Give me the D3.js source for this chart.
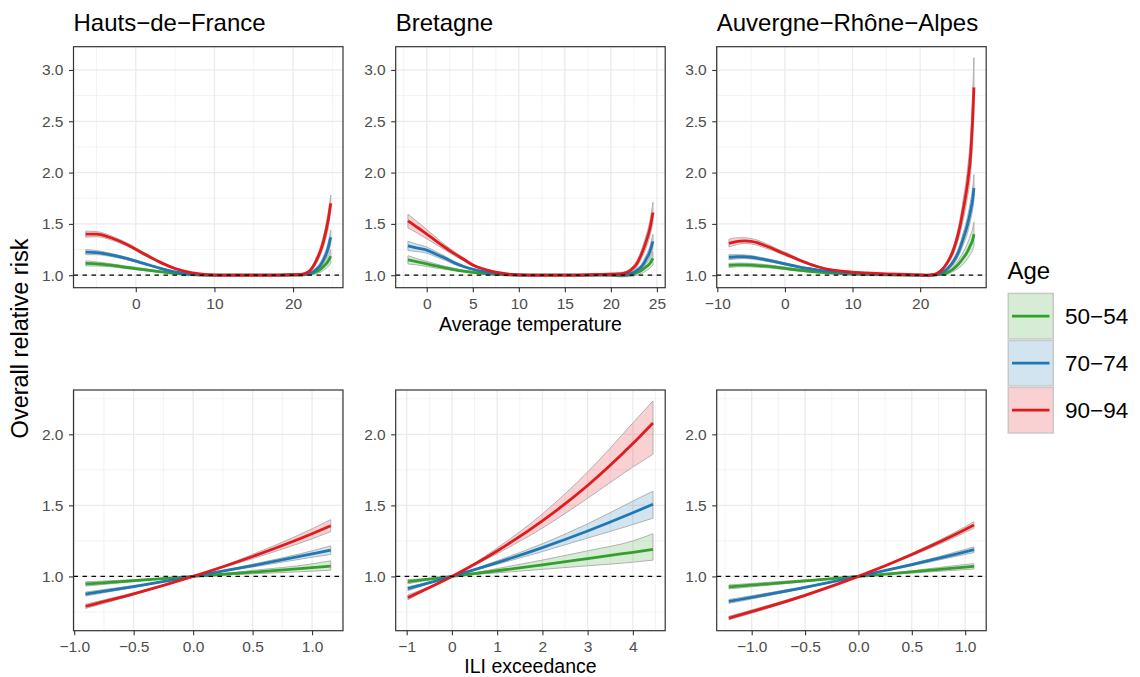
<!DOCTYPE html>
<html>
<head>
<meta charset="utf-8">
<script src="https://cdn.jsdelivr.net/npm/d3@7"></script>
<style>
  body { margin: 0; background: #fff; }
  text { font-family: "Liberation Sans", Arial, Helvetica, sans-serif; }
</style>
</head>
<body>
<svg id="chart" width="1140" height="677"></svg>
<script>
// ---- data ----
const regions = ["Hauts\u2212de\u2212France", "Bretagne", "Auvergne\u2212Rh\u00f4ne\u2212Alpes"];
const ageGroups = ["50\u221254", "70\u221274", "90\u221294"];

// Average temperature, Hauts-de-France  (rows: 50-54, 70-74, 90-94)
const hdfTempX = [-6.36, -5, -3, -1, 1, 3, 5, 7, 9, 11, 14, 17, 20, 21, 22, 22.5, 23, 23.5, 24, 24.4, 24.79];
const hdfTempFit = [
  [1.115, 1.11, 1.095, 1.075, 1.055, 1.035, 1.017, 1.005, 1.0, 1.0, 1.0, 1.0, 1.0, 1.002, 1.01, 1.02, 1.035, 1.06, 1.095, 1.13, 1.185],
  [1.225, 1.22, 1.195, 1.16, 1.115, 1.07, 1.033, 1.01, 1.002, 1.0, 1.0, 1.0, 1.003, 1.004, 1.015, 1.03, 1.06, 1.10, 1.17, 1.25, 1.37],
  [1.40, 1.40, 1.36, 1.295, 1.21, 1.13, 1.065, 1.025, 1.006, 1.0, 1.0, 1.0, 1.006, 1.008, 1.035, 1.08, 1.15, 1.24, 1.37, 1.51, 1.70]
];
const hdfTempLo = [
  [1.09, 1.09, 1.08, 1.063, 1.045, 1.028, 1.012, 1.002, 0.998, 0.998, 0.997, 0.997, 0.996, 0.996, 1.0, 1.005, 1.015, 1.03, 1.055, 1.08, 1.12],
  [1.20, 1.20, 1.18, 1.148, 1.105, 1.063, 1.028, 1.007, 1.0, 0.998, 0.997, 0.997, 0.998, 0.998, 1.005, 1.015, 1.04, 1.07, 1.13, 1.20, 1.30],
  [1.37, 1.375, 1.34, 1.28, 1.195, 1.12, 1.058, 1.02, 1.003, 0.998, 0.997, 0.997, 1.0, 1.0, 1.02, 1.06, 1.12, 1.20, 1.31, 1.44, 1.62]
];
const hdfTempHi = [
  [1.14, 1.13, 1.11, 1.087, 1.065, 1.042, 1.022, 1.008, 1.002, 1.002, 1.003, 1.003, 1.004, 1.008, 1.02, 1.035, 1.055, 1.09, 1.135, 1.18, 1.25],
  [1.25, 1.24, 1.21, 1.172, 1.125, 1.077, 1.038, 1.013, 1.004, 1.002, 1.003, 1.003, 1.008, 1.01, 1.025, 1.045, 1.08, 1.13, 1.21, 1.30, 1.44],
  [1.43, 1.425, 1.38, 1.31, 1.225, 1.14, 1.072, 1.03, 1.009, 1.002, 1.003, 1.003, 1.012, 1.016, 1.05, 1.10, 1.18, 1.28, 1.43, 1.58, 1.78]
];

// Average temperature, Bretagne
const breTempX = [-2.04, -1, 0, 1, 2, 3, 4, 5, 6, 7, 8, 10, 12, 15, 18, 20, 21, 21.7, 22.3, 22.8, 23.3, 23.8, 24.2, 24.57];
const breTempFit = [
  [1.15, 1.13, 1.11, 1.09, 1.072, 1.055, 1.04, 1.028, 1.018, 1.011, 1.006, 1.0, 1.0, 1.0, 1.0, 1.0, 0.998, 1.0, 1.01, 1.025, 1.045, 1.08, 1.11, 1.165],
  [1.285, 1.265, 1.245, 1.205, 1.165, 1.12, 1.085, 1.058, 1.038, 1.024, 1.013, 1.002, 1.0, 1.0, 1.002, 1.003, 1.0, 1.005, 1.02, 1.045, 1.08, 1.15, 1.22, 1.33],
  [1.53, 1.465, 1.40, 1.335, 1.27, 1.21, 1.155, 1.10, 1.065, 1.04, 1.022, 1.003, 1.0, 1.0, 1.005, 1.01, 1.012, 1.025, 1.06, 1.11, 1.20, 1.32, 1.44, 1.61]
];
const breTempLo = [
  [1.11, 1.10, 1.085, 1.07, 1.057, 1.043, 1.031, 1.021, 1.013, 1.007, 1.003, 0.998, 0.997, 0.997, 0.997, 0.992, 0.985, 0.985, 0.99, 1.0, 1.015, 1.04, 1.065, 1.10],
  [1.24, 1.23, 1.215, 1.18, 1.145, 1.105, 1.075, 1.05, 1.032, 1.019, 1.009, 0.999, 0.997, 0.997, 0.998, 0.993, 0.985, 0.99, 1.005, 1.025, 1.055, 1.11, 1.17, 1.26],
  [1.46, 1.41, 1.355, 1.30, 1.245, 1.19, 1.14, 1.09, 1.057, 1.034, 1.017, 1.0, 0.997, 0.997, 0.998, 1.0, 0.998, 1.01, 1.04, 1.08, 1.16, 1.26, 1.37, 1.51]
];
const breTempHi = [
  [1.19, 1.16, 1.135, 1.11, 1.087, 1.067, 1.049, 1.035, 1.023, 1.015, 1.009, 1.002, 1.003, 1.003, 1.003, 1.008, 1.011, 1.015, 1.03, 1.05, 1.075, 1.12, 1.155, 1.23],
  [1.33, 1.30, 1.275, 1.23, 1.185, 1.135, 1.095, 1.066, 1.044, 1.029, 1.017, 1.005, 1.003, 1.003, 1.006, 1.013, 1.015, 1.02, 1.035, 1.065, 1.105, 1.19, 1.27, 1.40],
  [1.595, 1.52, 1.445, 1.37, 1.295, 1.23, 1.17, 1.11, 1.073, 1.046, 1.027, 1.006, 1.003, 1.003, 1.012, 1.02, 1.026, 1.04, 1.08, 1.14, 1.24, 1.38, 1.51, 1.71]
];

// Average temperature, Auvergne-Rhone-Alpes
const araTempX = [-8.28, -7, -6, -5, -4, -3, -2, -1, 0, 1, 2, 3, 4, 5, 6, 8, 10, 12, 15, 18, 20, 21, 22, 23, 24, 25, 25.7, 26.4, 27, 27.5, 27.75, 27.96];
const araTempFit = [
  [1.095, 1.10, 1.10, 1.098, 1.094, 1.089, 1.083, 1.075, 1.067, 1.058, 1.05, 1.043, 1.036, 1.03, 1.025, 1.017, 1.01, 1.006, 1.003, 1.001, 1.0, 0.999, 1.0, 1.008, 1.025, 1.065, 1.11, 1.17, 1.23, 1.30, 1.34, 1.40],
  [1.175, 1.18, 1.18, 1.175, 1.165, 1.153, 1.14, 1.125, 1.11, 1.095, 1.082, 1.07, 1.06, 1.05, 1.042, 1.03, 1.02, 1.013, 1.007, 1.003, 1.0, 0.999, 1.002, 1.02, 1.06, 1.14, 1.23, 1.36, 1.49, 1.64, 1.73, 1.85],
  [1.31, 1.33, 1.335, 1.33, 1.315, 1.29, 1.265, 1.235, 1.208, 1.18, 1.15, 1.125, 1.10, 1.08, 1.063, 1.042, 1.03, 1.022, 1.013, 1.007, 1.003, 1.0, 1.005, 1.04, 1.12, 1.26, 1.42, 1.65, 1.89, 2.20, 2.50, 2.83]
];
const araTempLo = [
  [1.075, 1.082, 1.083, 1.081, 1.078, 1.074, 1.069, 1.062, 1.055, 1.047, 1.04, 1.034, 1.028, 1.023, 1.019, 1.012, 1.006, 1.002, 0.999, 0.997, 0.996, 0.995, 0.996, 1.0, 1.01, 1.04, 1.07, 1.11, 1.16, 1.21, 1.24, 1.28],
  [1.15, 1.16, 1.162, 1.158, 1.15, 1.139, 1.127, 1.113, 1.099, 1.085, 1.073, 1.062, 1.053, 1.044, 1.036, 1.025, 1.016, 1.01, 1.004, 1.0, 0.997, 0.996, 0.998, 1.01, 1.045, 1.11, 1.19, 1.30, 1.41, 1.55, 1.63, 1.73],
  [1.275, 1.30, 1.31, 1.305, 1.29, 1.268, 1.245, 1.218, 1.192, 1.166, 1.138, 1.115, 1.092, 1.073, 1.057, 1.037, 1.026, 1.019, 1.01, 1.004, 1.0, 0.998, 1.0, 1.03, 1.10, 1.22, 1.36, 1.55, 1.76, 2.02, 2.28, 2.56]
];
const araTempHi = [
  [1.115, 1.118, 1.117, 1.115, 1.11, 1.104, 1.097, 1.088, 1.079, 1.069, 1.06, 1.052, 1.044, 1.037, 1.031, 1.022, 1.014, 1.01, 1.007, 1.005, 1.004, 1.003, 1.005, 1.016, 1.04, 1.09, 1.15, 1.23, 1.31, 1.40, 1.45, 1.52],
  [1.20, 1.20, 1.198, 1.192, 1.18, 1.167, 1.153, 1.137, 1.121, 1.105, 1.091, 1.078, 1.067, 1.056, 1.048, 1.035, 1.024, 1.016, 1.01, 1.006, 1.003, 1.002, 1.006, 1.03, 1.075, 1.17, 1.27, 1.42, 1.57, 1.74, 1.84, 1.98],
  [1.35, 1.365, 1.365, 1.357, 1.34, 1.313, 1.285, 1.253, 1.225, 1.195, 1.163, 1.136, 1.109, 1.087, 1.069, 1.047, 1.034, 1.025, 1.016, 1.01, 1.006, 1.002, 1.01, 1.05, 1.14, 1.30, 1.48, 1.75, 2.03, 2.40, 2.73, 3.12]
];

// ILI exceedance, Hauts-de-France
const hdfIliX = [-0.903, -0.5, 0, 0.5, 1.0, 1.157];
const hdfIliFit = [
  [0.947, 0.970, 1.0, 1.030, 1.062, 1.072],
  [0.876, 0.929, 1.0, 1.076, 1.158, 1.185],
  [0.790, 0.877, 1.0, 1.140, 1.300, 1.356]
];
const hdfIliLo = [
  [0.932, 0.963, 1.0, 1.018, 1.037, 1.044],
  [0.862, 0.922, 1.0, 1.066, 1.135, 1.155],
  [0.775, 0.870, 1.0, 1.125, 1.265, 1.315]
];
const hdfIliHi = [
  [0.962, 0.977, 1.0, 1.042, 1.088, 1.110],
  [0.890, 0.936, 1.0, 1.086, 1.180, 1.215],
  [0.805, 0.885, 1.0, 1.155, 1.335, 1.400]
];

// ILI exceedance, Bretagne
const breIliX = [-0.972, 0, 1, 2, 3, 4, 4.444];
const breIliFit = [
  [0.963, 1.0, 1.040, 1.081, 1.125, 1.170, 1.190],
  [0.914, 1.0, 1.097, 1.203, 1.320, 1.448, 1.508],
  [0.852, 1.0, 1.179, 1.391, 1.640, 1.935, 2.080]
];
const breIliLo = [
  [0.948, 1.0, 1.025, 1.050, 1.075, 1.100, 1.115],
  [0.900, 1.0, 1.085, 1.175, 1.270, 1.365, 1.410],
  [0.835, 1.0, 1.160, 1.340, 1.550, 1.770, 1.860]
];
const breIliHi = [
  [0.978, 1.0, 1.055, 1.115, 1.180, 1.250, 1.300],
  [0.928, 1.0, 1.110, 1.230, 1.370, 1.530, 1.600],
  [0.870, 1.0, 1.200, 1.440, 1.735, 2.080, 2.235]
];

// ILI exceedance, Auvergne-Rhone-Alpes
const araIliX = [-1.213, -0.5, 0, 0.5, 1.0, 1.082];
const araIliFit = [
  [0.926, 0.969, 1.0, 1.032, 1.066, 1.071],
  [0.824, 0.923, 1.0, 1.083, 1.173, 1.188],
  [0.707, 0.867, 1.0, 1.154, 1.330, 1.362]
];
const araIliLo = [
  [0.912, 0.962, 1.0, 1.024, 1.048, 1.052],
  [0.810, 0.917, 1.0, 1.075, 1.155, 1.168],
  [0.695, 0.860, 1.0, 1.145, 1.310, 1.340]
];
const araIliHi = [
  [0.940, 0.976, 1.0, 1.040, 1.084, 1.090],
  [0.838, 0.929, 1.0, 1.091, 1.190, 1.208],
  [0.720, 0.874, 1.0, 1.163, 1.350, 1.385]
];

// ---- styles / layout ----
const lineColors = ["#33a02c", "#1f78b4", "#e31a1c"];
const W = 1140, H = 677;
const colLeft = [73.5, 395.7, 716.7], panelW = 269.5;
const rowTop = [46.7, 390], rowH = [241, 240.7];
const xStep = [[10, 5, 10], [0.5, 1, 0.5]];
const xFmt = [[d3.format("d"), d3.format("d"), d3.format("d")], [d3.format(".1f"), d3.format("d"), d3.format(".1f")]];

const rows = [
  [[hdfTempX, hdfTempFit, hdfTempLo, hdfTempHi], [breTempX, breTempFit, breTempLo, breTempHi], [araTempX, araTempFit, araTempLo, araTempHi]],
  [[hdfIliX, hdfIliFit, hdfIliLo, hdfIliHi], [breIliX, breIliFit, breIliLo, breIliHi], [araIliX, araIliFit, araIliLo, araIliHi]]
];

const svg = d3.select("#chart");
svg.append("rect").attr("width", W).attr("height", H).attr("fill", "#fff");

function expand(ext, f) {
  const r = ext[1] - ext[0];
  return [ext[0] - r * f, ext[1] + r * f];
}

rows.forEach((row, ri) => {
  // shared y per row
  const allY = [];
  row.forEach(p => { p[2].forEach(a => allY.push(...a)); p[3].forEach(a => allY.push(...a)); });
  const yDom = expand(d3.extent(allY), 0.05);
  const y = d3.scaleLinear().domain(yDom).range([rowTop[ri] + rowH[ri], rowTop[ri]]);
  const yMajor = d3.range(Math.ceil(yDom[0] / 0.5) * 0.5, yDom[1] + 1e-9, 0.5);
  const yMinor = d3.range(Math.ceil((yDom[0] - 0.25) / 0.5) * 0.5 + 0.25, yDom[1], 0.5).filter(v => v > yDom[0]);

  row.forEach((p, ci) => {
    const [xs, fit, lo, hi] = p;
    const xDom = expand(d3.extent(xs), 0.05);
    const x = d3.scaleLinear().domain(xDom).range([colLeft[ci], colLeft[ci] + panelW]);
    const st = xStep[ri][ci];
    const xMajor = d3.range(Math.ceil(xDom[0] / st) * st, xDom[1] + 1e-9, st);
    const xMinor = d3.range(Math.ceil((xDom[0] - st / 2) / st) * st + st / 2, xDom[1], st).filter(v => v > xDom[0]);

    const g = svg.append("g");
    const clipId = "clip" + ri + ci;
    g.append("clipPath").attr("id", clipId).append("rect")
      .attr("x", colLeft[ci]).attr("y", rowTop[ri]).attr("width", panelW).attr("height", rowH[ri]);

    // grid
    const grid = g.append("g");
    grid.selectAll(".xmin").data(xMinor).join("line")
      .attr("x1", d => x(d)).attr("x2", d => x(d))
      .attr("y1", rowTop[ri]).attr("y2", rowTop[ri] + rowH[ri])
      .attr("stroke", "#ebebeb").attr("stroke-width", 0.6);
    grid.selectAll(".ymin").data(yMinor).join("line")
      .attr("x1", colLeft[ci]).attr("x2", colLeft[ci] + panelW)
      .attr("y1", d => y(d)).attr("y2", d => y(d))
      .attr("stroke", "#ebebeb").attr("stroke-width", 0.6);
    grid.selectAll(".xmaj").data(xMajor).join("line")
      .attr("x1", d => x(d)).attr("x2", d => x(d))
      .attr("y1", rowTop[ri]).attr("y2", rowTop[ri] + rowH[ri])
      .attr("stroke", "#ebebeb").attr("stroke-width", 1.3);
    grid.selectAll(".ymaj").data(yMajor).join("line")
      .attr("x1", colLeft[ci]).attr("x2", colLeft[ci] + panelW)
      .attr("y1", d => y(d)).attr("y2", d => y(d))
      .attr("stroke", "#ebebeb").attr("stroke-width", 1.3);

    const plot = g.append("g").attr("clip-path", "url(#" + clipId + ")");

    // ribbons
    ageGroups.forEach((a, k) => {
      const pts = xs.map((xv, i) => ({ x: xv, lo: lo[k][i], hi: hi[k][i] }));
      plot.append("path").datum(pts)
        .attr("d", d3.area().curve(d3.curveMonotoneX)
          .x(d => x(d.x)).y0(d => y(d.lo)).y1(d => y(d.hi)))
        .attr("fill", lineColors[k]).attr("fill-opacity", 0.2)
        .attr("stroke", "#b0b0b0").attr("stroke-width", 1);
    });
    // lines
    ageGroups.forEach((a, k) => {
      const pts = xs.map((xv, i) => ({ x: xv, v: fit[k][i] }));
      plot.append("path").datum(pts)
        .attr("d", d3.line().curve(d3.curveMonotoneX).x(d => x(d.x)).y(d => y(d.v)))
        .attr("fill", "none").attr("stroke", lineColors[k]).attr("stroke-width", 2.8);
    });
    // reference line at 1
    plot.append("line")
      .attr("x1", colLeft[ci]).attr("x2", colLeft[ci] + panelW)
      .attr("y1", y(1)).attr("y2", y(1))
      .attr("stroke", "#000").attr("stroke-width", 1.2).attr("stroke-dasharray", "4.5,4.5");

    // axes
    const ax = g.append("g").attr("transform", "translate(0," + (rowTop[ri] + rowH[ri]) + ")")
      .call(d3.axisBottom(x).tickValues(xMajor).tickFormat(xFmt[ri][ci]).tickSize(4.5).tickPadding(5.5));
    const ay = g.append("g").attr("transform", "translate(" + colLeft[ci] + ",0)")
      .call(d3.axisLeft(y).tickValues(yMajor).tickFormat(d3.format(".1f")).tickSize(4.5).tickPadding(5.5));
    [ax, ay].forEach(a => {
      a.select(".domain").remove();
      a.selectAll(".tick line").attr("stroke", "#333").attr("stroke-width", 1.1);
      a.selectAll(".tick text").attr("fill", "#4d4d4d").style("font-size", "15.5px")
        .style("font-family", "'Liberation Sans', Arial, sans-serif");
    });

    // border
    g.append("rect").attr("x", colLeft[ci]).attr("y", rowTop[ri]).attr("width", panelW).attr("height", rowH[ri])
      .attr("fill", "none").attr("stroke", "#333").attr("stroke-width", 1.2);

    if (ri === 0) {
      svg.append("text").attr("x", colLeft[ci]).attr("y", 30.5)
        .style("font-size", "24px").attr("fill", "#000").text(regions[ci]);
    }
  });
});

// axis titles
svg.append("text").attr("x", colLeft[1] + panelW / 2).attr("y", 330.5).attr("text-anchor", "middle")
  .style("font-size", "19.5px").text("Average temperature");
svg.append("text").attr("x", colLeft[1] + panelW / 2).attr("y", 673).attr("text-anchor", "middle")
  .style("font-size", "19.5px").text("ILI exceedance");
svg.append("text").attr("transform", "translate(28,338.5) rotate(-90)").attr("text-anchor", "middle")
  .style("font-size", "23.5px").text("Overall relative risk");

// legend
const leg = svg.append("g").attr("transform", "translate(1007.5,0)");
leg.append("text").attr("x", 0).attr("y", 278.5).style("font-size", "24px").text("Age");
const keyH = 47;
ageGroups.forEach((a, k) => {
  const ky = 292.7 + k * keyH;
  leg.append("rect").attr("x", 0).attr("y", ky).attr("width", 46.5).attr("height", keyH)
    .attr("fill", "#fff").attr("stroke", "none");
  leg.append("rect").attr("x", 0.75).attr("y", ky + 0.75).attr("width", 45).attr("height", keyH - 1.5)
    .attr("fill", lineColors[k]).attr("fill-opacity", 0.2).attr("stroke", "#c8c8c8").attr("stroke-width", 1.5);
  leg.append("line").attr("x1", 4.5).attr("x2", 42).attr("y1", ky + keyH / 2).attr("y2", ky + keyH / 2)
    .attr("stroke", lineColors[k]).attr("stroke-width", 2.8);
  leg.append("text").attr("x", 57.5).attr("y", ky + keyH / 2).attr("dy", "0.36em")
    .style("font-size", "22.5px").text(a);
});
</script>
</body>
</html>
